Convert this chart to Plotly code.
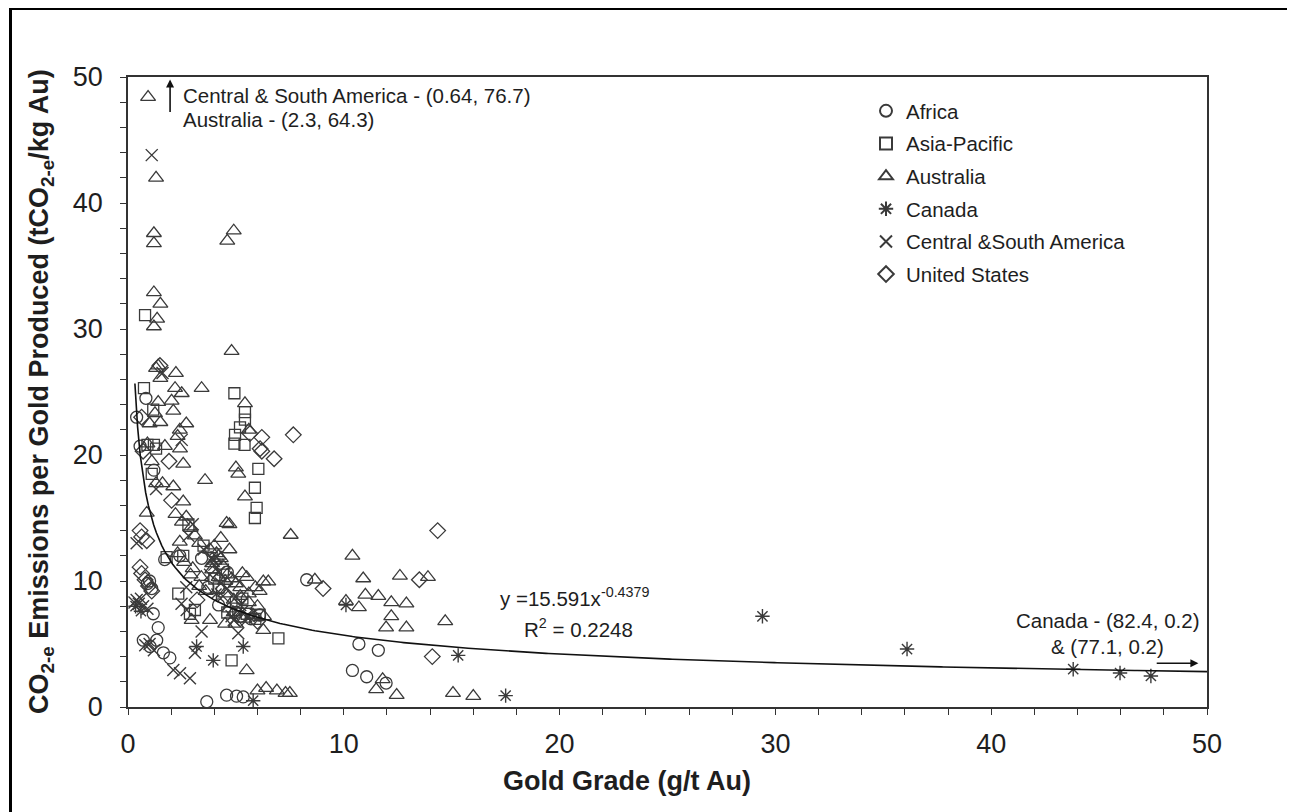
import plotly.graph_objects as go
import numpy as np

# ---------------- data ----------------
africa_x = [0.40, 0.56, 0.83, 1.20, 1.00, 0.90, 1.10, 1.17, 1.40, 1.33, 0.71, 1.02, 1.64, 1.94,
            1.70, 3.41, 4.60, 5.00, 5.70, 6.10, 3.70, 2.40, 8.28, 10.70, 11.60, 10.40, 11.06,
            11.96, 3.65, 4.57, 5.03, 5.34, 5.20, 4.20]
africa_y = [23.0, 20.7, 24.5, 18.8, 10.0, 9.8, 9.4, 7.4, 6.3, 5.3, 5.3, 4.8, 4.3, 3.9,
            11.7, 11.8, 10.7, 7.5, 7.0, 7.3, 9.5, 12.0, 10.1, 5.0, 4.5, 2.9, 2.4,
            1.9, 0.42, 0.94, 0.86, 0.80, 7.2, 8.1]

asia_x = [0.79, 0.74, 1.17, 0.90, 1.20, 1.30, 1.10, 4.93, 5.42, 5.42, 5.19, 4.96, 4.93, 5.40,
          6.04, 5.88, 5.96, 5.88, 1.79, 2.56, 2.33, 2.87, 3.10, 4.40, 5.00, 5.50, 5.90, 6.97,
          4.80, 2.80, 3.50, 4.20, 4.00, 5.30, 6.10, 4.60]
asia_y = [31.1, 25.3, 23.6, 20.8, 20.8, 20.5, 18.5, 24.9, 23.4, 22.8, 22.2, 21.6, 20.9, 20.8,
          18.9, 17.4, 15.8, 15.0, 11.9, 12.0, 9.0, 7.4, 7.7, 10.9, 8.3, 7.4, 7.0, 5.45,
          3.7, 14.5, 12.8, 9.5, 10.2, 8.6, 7.3, 7.5]

aus_x = [0.93, 1.30, 1.20, 1.20, 1.20, 1.50, 1.35, 1.20, 1.40, 1.30, 1.50, 1.40, 1.25, 1.50,
         0.90, 1.71, 1.30, 1.60, 0.87, 1.10, 1.00, 4.60, 4.90, 4.80, 5.42, 5.60, 5.00, 5.11,
         5.42, 4.70, 2.22, 2.18, 2.49, 2.02, 3.41, 2.41, 2.56, 2.10, 2.56, 3.57, 2.70, 2.30,
         2.20, 2.50, 2.70, 2.90, 3.10, 2.40, 3.30, 3.80, 4.00, 4.30, 4.57, 4.20, 4.40, 4.60,
         3.90, 4.20, 4.80, 5.00, 5.50, 6.27, 6.50, 4.50, 4.90, 5.20, 5.60, 6.00, 5.80, 6.30,
         4.70, 3.80, 2.95, 6.27, 5.50, 4.50, 3.60, 3.30, 2.90, 2.60, 2.30, 3.00, 5.30, 5.90,
         7.54, 6.00, 6.40, 6.90, 7.30, 7.50, 8.66, 10.40, 10.90, 12.60, 13.90, 11.00, 11.60,
         10.10, 10.70, 12.20, 12.90, 12.20, 11.96, 12.90, 14.70, 11.80, 11.50, 12.45, 15.06,
         16.00, 2.10, 2.40, 4.00, 4.10, 3.90, 4.30, 4.50, 5.20, 5.60, 6.10, 4.90, 5.40,
         5.00, 3.40, 4.70]
aus_y = [48.4, 42.0, 37.6, 36.8, 32.9, 32.0, 30.8, 30.2, 27.1, 26.9, 26.1, 24.2, 23.3, 22.6,
         20.9, 20.7, 17.75, 17.75, 15.4, 19.5, 22.5, 37.0, 37.8, 28.25, 24.1, 22.0, 19.0, 18.5,
         16.7, 14.5, 26.5, 25.3, 24.9, 24.3, 25.3, 20.5, 19.3, 17.5, 16.3, 18.0, 22.5, 21.5,
         15.3, 14.7, 15.1, 14.2, 13.6, 13.1, 13.0, 12.5, 11.6, 13.4, 14.6, 12.0, 11.2, 10.5,
         10.9, 10.3, 10.2, 9.8, 10.3, 9.95, 9.95, 9.0, 8.5, 8.8, 8.3, 8.0, 7.3, 7.2,
         7.8, 6.9, 6.9, 6.1, 2.9, 6.6, 9.2, 9.6, 10.5, 11.5, 12.2, 11.0, 10.6, 9.5,
         13.65, 1.3, 1.5, 1.3, 1.1, 1.1, 10.1, 12.0, 10.2, 10.4, 10.3, 8.9, 8.8,
         8.4, 7.9, 8.3, 8.2, 7.2, 6.3, 6.3, 6.8, 2.2, 1.4, 0.95, 1.1,
         0.87, 23.5, 22.0, 12.8, 12.2, 11.4, 11.8, 10.0, 9.5, 9.0, 9.2, 7.5, 7.0,
         6.6, 10.3, 12.5]

canada_x = [0.35, 0.60, 3.18, 3.95, 5.34, 5.80, 4.10, 10.10, 15.30, 17.50, 29.40, 36.10,
            43.80, 45.97, 47.40]
canada_y = [8.0, 7.6, 4.8, 3.7, 4.8, 0.5, 9.0, 8.1, 4.1, 0.9, 7.2, 4.6,
            3.0, 2.7, 2.46]

csa_x = [1.10, 2.49, 0.40, 0.40, 0.70, 0.50, 0.80, 1.20, 1.00, 2.10, 2.41, 2.87, 2.48, 2.72,
         3.41, 3.10, 1.60, 1.30, 3.00, 2.80, 3.50, 4.00, 4.20, 4.30, 4.40, 5.00, 5.30, 4.80,
         5.11, 3.90, 2.70, 3.80, 4.10, 4.60, 5.20, 5.60, 4.90, 0.30, 0.60, 0.90]
csa_y = [43.8, 21.2, 13.0, 8.5, 8.0, 8.2, 4.9, 4.5, 5.0, 2.94, 2.67, 2.28, 8.2, 7.7,
         6.0, 4.3, 26.5, 17.3, 14.5, 13.6, 12.5, 11.3, 10.7, 9.8, 8.8, 8.7, 7.6, 7.2,
         5.85, 11.7, 9.5, 10.5, 11.9, 9.4, 8.1, 7.2, 6.9, 8.3, 8.6, 7.8]

us_x = [0.63, 1.48, 0.70, 0.56, 0.63, 0.87, 0.56, 0.63, 0.79, 0.95, 1.10, 2.02, 1.90, 5.65,
        6.20, 6.12, 6.20, 6.77, 7.66, 9.04, 13.50, 14.35, 14.10, 3.20, 5.20, 6.00]
us_y = [23.0, 27.1, 20.3, 14.0, 13.5, 13.2, 11.1, 10.6, 10.1, 9.6, 9.2, 16.4, 19.5, 21.7,
        21.4, 20.5, 20.3, 19.7, 21.6, 9.4, 10.1, 14.0, 4.0, 8.5, 7.0, 6.8]

# power-law trendline stated on the chart
fit_a, fit_b = 15.591, -0.4379
fit_x = np.linspace(0.32, 50, 400)
fit_y = fit_a * fit_x ** fit_b

x_ticks = [0, 10, 20, 30, 40, 50]
y_ticks = [0, 10, 20, 30, 40, 50]

# ---------------- figure ----------------
MC = "#3a3a3a"
TXT = "#1e1e1e"
FONT = "Arial, Liberation Sans, sans-serif"

# page body has an 8px default margin: work in div pixels
W, H = 1287, 804
L, T = 120, 69
PW, PH = 1079, 630
R, B = W - L - PW, H - T - PH


def px(xs):   # screen x -> paper
    return (xs - 8 - L) / PW


def py(ys):   # screen y -> paper
    return 1 - (ys - 8 - T) / PH


fig = go.Figure()


def add_series(name, xs, ys, symbol, size=12, lw=1.3):
    fig.add_trace(go.Scatter(
        x=xs, y=ys, mode="markers", name=name, legendgroup=name,
        marker=dict(symbol=symbol, size=size, color=MC,
                    line=dict(color=MC, width=lw)),
    ))


add_series("Africa", africa_x, africa_y, "circle-open")
add_series("Asia-Pacific", asia_x, asia_y, "square-open", size=11)
add_series("Australia", aus_x, aus_y, "triangle-up-open", size=13)
add_series("Canada", canada_x, canada_y, "asterisk-open", size=12, lw=1.4)
add_series("Central &South America", csa_x, csa_y, "x-thin-open", size=12, lw=1.4)
add_series("United States", us_x, us_y, "diamond-open", size=12)

fig.add_trace(go.Scatter(x=fit_x, y=fit_y, mode="lines", showlegend=False,
                         line=dict(color="#111111", width=1.6), hoverinfo="skip"))

axis_common = dict(
    showgrid=False, zeroline=False, showline=True, linecolor="#333333", linewidth=1.6,
    mirror=True, ticks="outside", ticklen=6, tickwidth=1.3, tickcolor="#333333",
    tickfont=dict(family=FONT, size=27, color=TXT),
    minor=dict(ticks="outside", dtick=2, ticklen=6, tickwidth=1.3, tickcolor="#333333"),
)

fig.update_xaxes(range=[0, 50], tickvals=x_ticks, ticklabelstandoff=6, **axis_common)
fig.update_yaxes(range=[0, 50], tickvals=y_ticks, ticklabelstandoff=12, **axis_common)

ann_font = dict(family=FONT, size=20.5, color=TXT)
title_font = dict(family=FONT, size=27, color=TXT)
annotations = [
    # axis titles
    dict(x=px(627), y=py(781), xref="paper", yref="paper", xanchor="center", yanchor="middle",
         showarrow=False, text="<b>Gold Grade (g/t Au)</b>", font=title_font),
    dict(x=px(41), y=py(392), xref="paper", yref="paper", xanchor="center", yanchor="middle",
         showarrow=False, textangle=-90, font=title_font,
         text="<b>CO<sub>2-e</sub> Emissions per Gold Produced (tCO<sub>2-e</sub>/kg Au)</b>"),
    # off-scale notes
    dict(x=1.95, y=49.8, ax=1.95, ay=47.1, xref="x", yref="y", axref="x", ayref="y",
         showarrow=True, arrowhead=2, arrowsize=1, arrowwidth=1.6, arrowcolor="#111111", text=""),
    dict(x=2.45, y=48.5, xref="x", yref="y", xanchor="left", yanchor="middle", showarrow=False,
         text="Central & South America - (0.64, 76.7)", font=ann_font),
    dict(x=2.45, y=46.6, xref="x", yref="y", xanchor="left", yanchor="middle", showarrow=False,
         text="Australia - (2.3, 64.3)", font=ann_font),
    dict(x=49.6, y=3.47, ax=47.6, ay=3.47, xref="x", yref="y", axref="x", ayref="y",
         showarrow=True, arrowhead=2, arrowsize=1, arrowwidth=1.6, arrowcolor="#111111", text=""),
    dict(x=45.37, y=6.83, xref="x", yref="y", xanchor="center", yanchor="middle", showarrow=False,
         text="Canada - (82.4, 0.2)", font=ann_font),
    dict(x=45.37, y=4.84, xref="x", yref="y", xanchor="center", yanchor="middle", showarrow=False,
         text="& (77.1, 0.2)", font=ann_font),
    # trendline equation
    dict(x=17.15, y=8.73, xref="x", yref="y", xanchor="left", yanchor="middle", showarrow=False,
         text="y =15.591x<sup>-0.4379</sup>", font=ann_font),
    dict(x=18.26, y=6.27, xref="x", yref="y", xanchor="left", yanchor="middle", showarrow=False,
         text="R<sup>2</sup> = 0.2248", font=ann_font),
]

fig.update_layout(
    width=W, height=H,
    margin=dict(l=L, r=R, t=T, b=B, autoexpand=False),
    paper_bgcolor="white", plot_bgcolor="white",
    font=dict(family=FONT, color=TXT),
    annotations=annotations,
    legend=dict(x=px(866), y=py(91), xanchor="left", yanchor="top",
                bgcolor="rgba(0,0,0,0)", font=dict(family=FONT, size=20.5, color=TXT),
                tracegroupgap=3, itemsizing="constant", itemwidth=30),
    shapes=[dict(type="rect", xref="paper", yref="paper",
                 x0=(2.5 - L) / PW, x1=(1320 - L) / PW,
                 y0=1 - (840 - T) / PH, y1=1 - (0.5 - T) / PH,
                 line=dict(color="black", width=3), fillcolor="rgba(0,0,0,0)", layer="below")],
    showlegend=True,
)

fig.write_html("out.html")
